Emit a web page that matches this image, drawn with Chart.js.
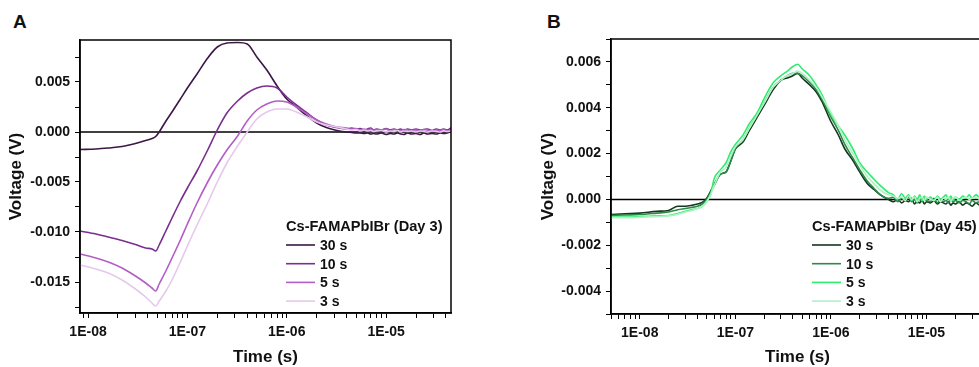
<!DOCTYPE html>
<html>
<head>
    <meta charset="UTF-8">
    <title>Voltage transients, Cs-FAMAPbIBr</title>
    <style>
        html, body { margin: 0; padding: 0; overflow: hidden; background: #fff; }
        body { position: relative; width: 979px; height: 367px; font-family: 'Liberation Sans', Arial, sans-serif; }
        canvas { position: absolute; top: 0; }
        #chartA { left: 0; }
        #chartB { left: 490px; }
        .panel-label { position: absolute; top: 12px; font-size: 19px; line-height: 19px; font-weight: bold; color: #111; }
    </style>
</head>
<body>
    <div class="panel-label" style="left:13px">A</div>
    <div class="panel-label" style="left:547px">B</div>
    <canvas id="chartA" width="490" height="367"></canvas>
    <canvas id="chartB" width="540" height="367"></canvas>

    <script src="https://cdn.jsdelivr.net/npm/chart.js"></script>
    <script>
        // ---- data ----
        const seriesNames = ['30 s', '10 s', '5 s', '3 s'];

        const xMajorTicks = [1e-8, 1e-7, 1e-6, 1e-5];
        const xTickLabels = ['1E-08', '1E-07', '1E-06', '1E-05'];

        const yTicksA = [-0.015, -0.010, -0.005, 0, 0.005];
        const yTickLabelsA = ['-0.015', '-0.010', '-0.005', '0.000', '0.005'];
        const yTicksB = [-0.004, -0.002, 0, 0.002, 0.004, 0.006];
        const yTickLabelsB = ['-0.004', '-0.002', '0.000', '0.002', '0.004', '0.006'];

        // panel A (Day 3)
        const timeA = [
            8.3e-9, 1.2e-8, 1.6e-8, 2.2e-8, 3.0e-8, 3.8e-8, 4.4e-8, 4.8e-8, 5.2e-8, 6.0e-8,
            7.0e-8, 8.5e-8, 1.0e-7, 1.25e-7, 1.6e-7, 2.0e-7, 2.5e-7, 3.2e-7, 4.0e-7, 5.0e-7,
            6.3e-7, 8.0e-7, 1.0e-6, 1.25e-6, 1.6e-6, 2.0e-6, 2.5e-6, 3.2e-6,
            4e-6, 4.5e-6, 5e-6, 5.5e-6, 6e-6, 6.5e-6, 7e-6, 7.5e-6, 8e-6, 9e-6,
            1e-5, 1.1e-5, 1.2e-5, 1.3e-5, 1.4e-5, 1.5e-5, 1.65e-5, 1.8e-5, 2e-5, 2.2e-5,
            2.4e-5, 2.6e-5, 2.9e-5, 3.2e-5, 3.5e-5, 3.8e-5, 4.1e-5, 4.5e-5
        ];
        const day3_30s = [
            -0.00175, -0.0017, -0.0016, -0.00145, -0.00115, -0.00085, -0.00065, -0.00045, 0.0000, 0.0010,
            0.0020, 0.0033, 0.0044, 0.0058, 0.0074, 0.0085, 0.0089, 0.00895, 0.0088, 0.0075,
            0.0062, 0.0046, 0.0033, 0.0025, 0.0016, 0.0009, 0.00045, 0.00015,
            0.0000, -0.00005, -0.0001, -0.0001, -0.00015, -0.0001, -0.0002, -0.00015, -0.0002, -0.0001,
            -0.00025, -0.00015, -0.0002, -0.0001, -0.0002, -0.00025, -0.0001, -0.0002, -0.00015, -0.00025,
            -0.0001, -0.0002, -0.00015, -0.0002, -0.0001, -0.00015, -0.0001, 0.00005
        ];
        const day3_10s = [
            -0.0099, -0.0102, -0.0105, -0.01085, -0.01125, -0.0116, -0.0117, -0.0119, -0.0113, -0.0100,
            -0.0086, -0.0069, -0.0056, -0.0039, -0.0018, 0.0002, 0.0019, 0.0031, 0.0039, 0.0044,
            0.0046, 0.0044, 0.0035, 0.0027, 0.0019, 0.0012, 0.0007, 0.00045,
            0.0003, 0.0004, 0.0003, 0.00035, 0.0002, 0.0003, 0.0004, 0.0002, 0.0003, 0.0002,
            0.00035, 0.0002, 0.0003, 0.0002, 0.0003, 0.00015, 0.0003, 0.0002, 0.0003, 0.0002,
            0.00025, 0.0003, 0.00015, 0.0003, 0.0002, 0.0003, 0.0002, 0.0004
        ];
        const day3_5s = [
            -0.0122, -0.0126, -0.0130, -0.0136, -0.0144, -0.0151, -0.0156, -0.0159, -0.0152, -0.0140,
            -0.0126, -0.0108, -0.0092, -0.0071, -0.0050, -0.0033, -0.0018, -0.0004, 0.0011, 0.0022,
            0.0028, 0.0031, 0.0030, 0.0025, 0.0018, 0.0012, 0.0008, 0.0005,
            0.0004, 0.0003, 0.00035, 0.0002, 0.0003, 0.0002, 0.0003, 0.00015, 0.00025, 0.0002,
            0.0003, 0.0001, 0.00025, 0.0002, 0.0001, 0.00025, 0.0002, 0.00015, 0.0002, 0.0001,
            0.00025, 0.0002, 0.0001, 0.0002, 0.00015, 0.00025, 0.0001, 0.0002
        ];
        const day3_3s = [
            -0.0133, -0.0137, -0.0141, -0.0148, -0.0157, -0.0165, -0.0171, -0.0174, -0.0169, -0.0160,
            -0.0148, -0.0130, -0.0114, -0.0093, -0.0071, -0.0050, -0.0031, -0.0014, 0.0000, 0.0013,
            0.0020, 0.0023, 0.0023, 0.0020, 0.0015, 0.0010, 0.0007, 0.0005,
            0.0003, 0.0002, 0.00025, 0.0001, 0.0002, 0.0001, 0.00015, 0.00005, 0.0001, 0.00015,
            0.0000, 0.0001, 0.00005, 0.00015, 0.0000, 0.0001, 0.00005, 0.0001, 0.0000, 0.0001,
            0.00005, 0.0000, 0.0001, 0.00005, 0.0000, 0.0001, 0.00005, 0.0001
        ];

        // panel B (Day 45)
        const timeB = [
            5e-9, 7e-9, 1e-8, 1.5e-8, 2e-8, 2.5e-8, 3e-8, 3.5e-8, 4e-8, 4.5e-8,
            5e-8, 5.5e-8, 6e-8, 7e-8, 8e-8, 9e-8, 1e-7, 1.2e-7, 1.4e-7, 1.7e-7,
            2e-7, 2.5e-7, 3e-7, 3.5e-7, 4e-7, 4.5e-7, 5e-7, 6e-7, 7e-7, 8e-7,
            1e-6, 1.2e-6, 1.4e-6, 1.7e-6, 2e-6, 2.4e-6, 2.8e-6, 3.3e-6, 4e-6,
            4.5e-6, 5e-6, 5.5e-6, 6e-6, 6.5e-6, 7e-6, 7.5e-6, 8e-6, 8.5e-6, 9e-6,
            9.5e-6, 1e-5, 1.1e-5, 1.2e-5, 1.3e-5, 1.4e-5, 1.5e-5, 1.6e-5, 1.7e-5, 1.8e-5,
            1.9e-5, 2e-5, 2.2e-5, 2.4e-5, 2.6e-5, 2.8e-5, 3e-5, 3.3e-5, 3.6e-5, 4e-5
        ];
        const day45_30s = [
            -0.00066, -0.00063, -0.0006, -0.00052, -0.00048, -0.0003, -0.0003, -0.00026, -0.0002, -0.00013,
            0.00004, 0.00035, 0.00065, 0.0011, 0.0012, 0.0017, 0.0022, 0.0025, 0.0030, 0.0036,
            0.0041, 0.0048, 0.0052, 0.0053, 0.0054, 0.0055, 0.0053, 0.0050, 0.0047, 0.0043,
            0.0034, 0.0028, 0.0022, 0.0017, 0.0012, 0.0007, 0.00045, 0.0002, 0.0000,
            -0.0001, 0.0000, -0.00015, -0.00005, -0.0001, 0.00005, -0.0002, -0.0001, -0.00015, 0.0000,
            -0.0002, -0.0001, -0.00015, -0.00005, -0.0002, -0.0001, -0.00015, -0.0002, -0.0001, -0.00025,
            -0.00015, -0.0002, -0.0001, -0.00025, -0.00015, -0.0002, -0.0003, -0.00015, -0.00025, -0.0002
        ];
        const day45_10s = [
            -0.0007, -0.00068, -0.00066, -0.0006, -0.00055, -0.00045, -0.0004, -0.00035, -0.0003, -0.0002,
            0.0000, 0.0003, 0.0006, 0.0011, 0.0012, 0.0017, 0.0022, 0.0026, 0.0031, 0.0037,
            0.0042, 0.0049, 0.0052, 0.0054, 0.0055, 0.0055, 0.0054, 0.0051, 0.0048, 0.0044,
            0.0036, 0.0030, 0.0024, 0.0018, 0.0013, 0.0008, 0.0005, 0.0002, 0.00005,
            0.0001, -0.0001, 0.00005, -0.00005, 0.0001, -0.0001, 0.0000, -0.00015, 0.00005, -0.0001,
            0.0000, -0.00005, -0.0001, 0.00005, -0.00015, 0.0000, -0.0001, -0.00005, -0.00015, 0.0000,
            -0.0001, -0.00005, -0.00015, -0.00005, -0.0001, -0.0002, -0.00005, -0.00015, -0.0001, -0.00015
        ];
        const day45_5s = [
            -0.00077, -0.00077, -0.00075, -0.00072, -0.0007, -0.00062, -0.00052, -0.00045, -0.0004, -0.0003,
            -0.0001, 0.0002, 0.0009, 0.0013, 0.0016, 0.0021, 0.0024, 0.0028, 0.0033, 0.0038,
            0.0044, 0.0051, 0.0054, 0.0056, 0.0058, 0.0059, 0.0057, 0.0054, 0.0050, 0.0046,
            0.0037, 0.0032, 0.0028, 0.0022, 0.0016, 0.0012, 0.0009, 0.0006, 0.0003,
            0.0002, 0.0000, 0.00025, 0.00005, 0.0002, -0.00005, 0.00015, 0.0000, 0.0002, -0.00005,
            0.00015, 0.0000, 0.0001, -0.00005, 0.00015, 0.0000, 0.0001, 0.0002, 0.0000, 0.00015,
            -0.00005, 0.0001, 0.0000, 0.00015, 0.00005, 0.0002, 0.00005, 0.0002, 0.0001, 0.00025
        ];
        const day45_3s = [
            -0.0008, -0.0008, -0.00078, -0.00075, -0.00072, -0.00065, -0.00055, -0.00048, -0.0004, -0.0003,
            -0.0001, 0.0002, 0.0006, 0.0012, 0.0014, 0.0019, 0.0023, 0.0026, 0.0031, 0.0037,
            0.0042, 0.0049, 0.0052, 0.0054, 0.0055, 0.0056, 0.0055, 0.0052, 0.0049, 0.0045,
            0.0038, 0.0032, 0.0026, 0.0020, 0.0015, 0.0010, 0.0007, 0.0004, 0.0002,
            0.00015, 0.00005, 0.0001, -0.00005, 0.00015, 0.0000, 0.0001, -0.0001, 0.00005, 0.0001,
            -0.00005, 0.0001, 0.0000, -0.00005, 0.0001, -0.0001, 0.00005, 0.0000, 0.0001, -0.00005,
            0.00005, 0.0001, -0.00005, 0.00005, 0.0001, 0.0000, 0.00005, 0.0001, 0.0000, 0.0001
        ];

        // ---- drawing ----
        const FONT = "'Liberation Sans', Arial, sans-serif";
        Chart.defaults.font.family = FONT;
        Chart.defaults.color = '#111';

        function matchLabel(v, values, labels) {
            for (let i = 0; i < values.length; i++) {
                if (Math.abs(v - values[i]) <= Math.abs(values[i]) * 1e-6 + 1e-12) return labels[i];
            }
            return '';
        }

        // 1..9 x 10^n inside the axis range (major and minor tick marks)
        function logTickValues(min, max) {
            const out = [];
            for (let e = -9; e <= -4; e++) {
                for (let m = 1; m <= 9; m++) {
                    const v = m * Math.pow(10, e);
                    if (v >= min && v <= max) out.push(v);
                }
            }
            return out;
        }

        function linearTickValues(min, max, step) {
            const out = [];
            for (let k = Math.ceil(min / step - 1e-9); k * step <= max + 1e-12; k++) out.push(k * step);
            return out;
        }

        const insideLegend = {
            id: 'insideLegend',
            afterDraw(chart, args, opts) {
                const ctx = chart.ctx;
                ctx.save();
                ctx.fillStyle = '#111';
                ctx.textBaseline = 'middle';
                ctx.font = 'bold 14.6px ' + FONT;
                ctx.fillText(opts.title, opts.x, opts.titleY);
                ctx.font = 'bold 14px ' + FONT;
                chart.data.datasets.filter(d => d.label).forEach((d, i) => {
                    const y = opts.rowY + i * opts.rowGap;
                    ctx.strokeStyle = d.borderColor;
                    ctx.lineWidth = d.borderWidth;
                    ctx.beginPath();
                    ctx.moveTo(opts.x, y);
                    ctx.lineTo(opts.x + 29, y);
                    ctx.stroke();
                    ctx.fillText(d.label, opts.x + 34, y + 1);
                });
                ctx.restore();
            }
        };

        const frameBox = {
            id: 'frameBox',
            afterDatasetsDraw(chart) {
                const a = chart.chartArea;
                const ctx = chart.ctx;
                ctx.save();
                ctx.strokeStyle = '#000';
                ctx.lineWidth = 1.5;
                ctx.strokeRect(a.left, a.top, a.right - a.left, a.bottom - a.top);
                ctx.restore();
            }
        };

        function makePanel(id, o) {
            const datasets = o.series.map((vals, i) => ({
                label: seriesNames[i],
                data: o.time.map((t, j) => ({ x: t, y: vals[j] })),
                borderColor: o.colors[i],
                borderWidth: 1.6,
                pointRadius: 0,
                cubicInterpolationMode: 'monotone',
                order: 4 - i
            }));
            // horizontal zero line
            datasets.push({
                label: '',
                data: [{ x: o.xMin, y: 0 }, { x: o.xMax, y: 0 }],
                borderColor: '#000',
                borderWidth: 1.5,
                pointRadius: 0,
                order: 5
            });

            const tickFont = { size: 14, weight: 'bold' };
            const titleFont = { size: 17, weight: 'bold' };
            const grid = { drawOnChartArea: false, drawTicks: true, tickLength: 5, color: '#000', lineWidth: 1 };
            const border = { display: true, color: '#000', width: 1.5 };

            return new Chart(document.getElementById(id), {
                type: 'line',
                data: { datasets },
                plugins: [insideLegend, frameBox],
                options: {
                    responsive: false,
                    animation: false,
                    layout: { padding: o.padding },
                    plugins: {
                        legend: { display: false },
                        tooltip: { enabled: false },
                        insideLegend: o.legend
                    },
                    scales: {
                        x: {
                            type: 'logarithmic',
                            min: o.xMin,
                            max: o.xMax,
                            afterBuildTicks: s => { s.ticks = logTickValues(o.xMin, o.xMax).map(v => ({ value: v })); },
                            afterFit: s => { s.height = o.xHeight; },
                            ticks: {
                                autoSkip: false, maxRotation: 0, padding: 6, color: '#111', font: tickFont,
                                callback: v => matchLabel(v, xMajorTicks, xTickLabels)
                            },
                            grid, border,
                            title: { display: true, text: 'Time (s)', color: '#111', font: titleFont, padding: { top: 0, bottom: -1 } }
                        },
                        y: {
                            min: o.yMin,
                            max: o.yMax,
                            afterBuildTicks: s => { s.ticks = linearTickValues(o.yMin, o.yMax, o.yStep).map(v => ({ value: v })); },
                            afterFit: s => { s.width = o.yWidth; },
                            ticks: {
                                autoSkip: false, padding: 5, color: '#111', font: tickFont,
                                callback: v => matchLabel(v, o.yTicks, o.yLabels)
                            },
                            grid, border,
                            title: { display: true, text: 'Voltage (V)', color: '#111', font: titleFont, padding: { top: 6, bottom: 0 } }
                        }
                    }
                }
            });
        }

        makePanel('chartA', {
            time: timeA,
            series: [day3_30s, day3_10s, day3_5s, day3_3s],
            colors: ['#3b1745', '#7a2e8e', '#b35dc7', '#e6c8ec'],
            xMin: 8.3e-9, xMax: 4.5e-5,
            yMin: -0.0181, yMax: 0.0092, yStep: 0.0025,
            yTicks: yTicksA, yLabels: yTickLabelsA,
            padding: { top: 40, right: 39, bottom: 0, left: 0 },
            xHeight: 54, yWidth: 80,
            legend: { title: 'Cs-FAMAPbIBr (Day 3)', x: 286, titleY: 227, rowY: 245, rowGap: 18.7 }
        });

        makePanel('chartB', {
            time: timeB,
            series: [day45_30s, day45_10s, day45_5s, day45_3s],
            colors: ['#15371f', '#2c8a48', '#2fec6c', '#aef3c6'],
            xMin: 5e-9, xMax: 4e-5,
            yMin: -0.005, yMax: 0.007, yStep: 0.001,
            yTicks: yTicksB, yLabels: yTickLabelsB,
            padding: { top: 39, right: 46, bottom: 0, left: 42 },
            xHeight: 53, yWidth: 79,
            legend: { title: 'Cs-FAMAPbIBr (Day 45)', x: 322, titleY: 227, rowY: 245, rowGap: 18.7 }
        });
    </script>
</body>
</html>
